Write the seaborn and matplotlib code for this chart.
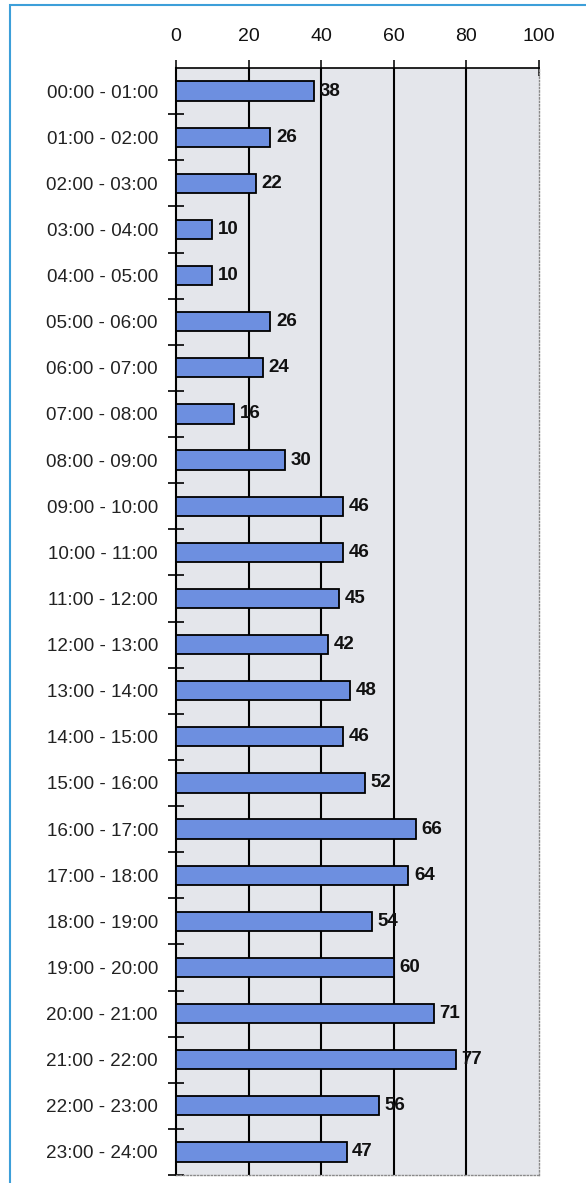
import matplotlib
matplotlib.use("Agg")
import matplotlib.pyplot as plt
import seaborn as sns
import pandas as pd
import numpy as np
from matplotlib.patches import Rectangle
from matplotlib.ticker import FixedLocator

# Data
hours = ["00:00 - 01:00", "01:00 - 02:00", "02:00 - 03:00", "03:00 - 04:00",
         "04:00 - 05:00", "05:00 - 06:00", "06:00 - 07:00", "07:00 - 08:00",
         "08:00 - 09:00", "09:00 - 10:00", "10:00 - 11:00", "11:00 - 12:00",
         "12:00 - 13:00", "13:00 - 14:00", "14:00 - 15:00", "15:00 - 16:00",
         "16:00 - 17:00", "17:00 - 18:00", "18:00 - 19:00", "19:00 - 20:00",
         "20:00 - 21:00", "21:00 - 22:00", "22:00 - 23:00", "23:00 - 24:00"]
counts = [38, 26, 22, 10, 10, 26, 24, 16, 30, 46, 46, 45,
          42, 48, 46, 52, 66, 64, 54, 60, 71, 77, 56, 47]
x_ticks = [0, 20, 40, 60, 80, 100]

df = pd.DataFrame({"hour": hours, "count": counts})

sns.set_style("white")
plt.rcParams['font.family'] = ['Liberation Sans', 'DejaVu Sans']

bar_color = "#6d8fe0"

fig = plt.figure(figsize=(5.86, 11.83), dpi=100)
ax = fig.add_axes([176 / 586, 8 / 1183, (539 - 176) / 586, (1175 - 68) / 1183])
ax.set_facecolor("#e4e6eb")

sns.barplot(data=df, x="count", y="hour", orient="h", color=bar_color,
            saturation=1, edgecolor="black", linewidth=1.3, width=0.42,
            ax=ax, zorder=3)

# value labels
ax.bar_label(ax.containers[0], labels=[str(v) for v in counts], padding=4,
             fontsize=13.5, fontweight="bold", color="#111111")

# vertical gridlines (dark), the 100 line is the dotted right edge
for v in x_ticks[1:-1]:
    ax.axvline(v, color="black", lw=1.5, zorder=1)

ax.set_xlim(0, 100)
ax.set_ylim(23.5, -0.5)
ax.set_xlabel("")
ax.set_ylabel("")

ax.xaxis.tick_top()
ax.set_xticks(x_ticks)
ax.tick_params(axis="x", direction="inout", length=11, width=1.2,
               labelsize=14, pad=11, colors="#111111")
ax.tick_params(axis="y", which="major", length=0, labelsize=13.6, pad=13,
               labelcolor="#222222")
ax.yaxis.set_minor_locator(FixedLocator(np.arange(0.5, 24.0, 1.0)))
ax.tick_params(axis="y", which="minor", direction="inout", length=12,
               width=1.2, left=True, color="black")

ax.spines["left"].set_color("black")
ax.spines["left"].set_linewidth(1.5)
ax.spines["top"].set_color("black")
ax.spines["top"].set_linewidth(1.2)
for side in ["right", "bottom"]:
    ax.spines[side].set_color("#8a8a8a")
    ax.spines[side].set_linestyle((0, (1, 1.5)))
    ax.spines[side].set_linewidth(1.0)

# light blue frame around the panel (left and top edges visible)
fig.patches.append(Rectangle((10 / 586, -0.5), 2.0, 0.5 + 1 - 5 / 1183,
                             transform=fig.transFigure, fill=False,
                             edgecolor="#3d9fd9", lw=1.5))

fig.savefig("out.png", dpi=100)
